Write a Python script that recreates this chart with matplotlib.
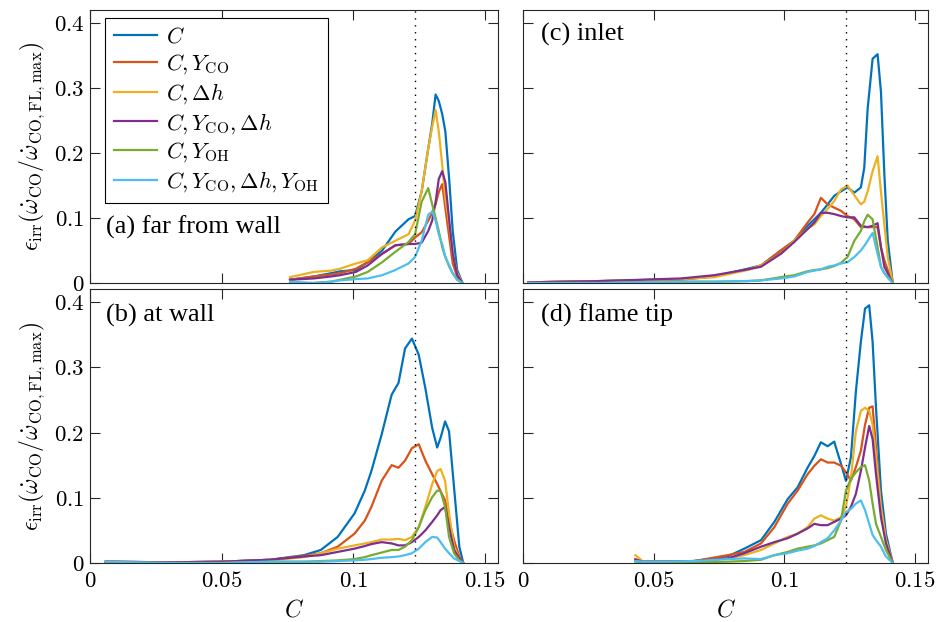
import numpy as np
import matplotlib
matplotlib.use('agg')
import matplotlib.pyplot as plt

plt.rcParams['font.family'] = ['Liberation Serif', 'DejaVu Serif']
plt.rcParams['mathtext.fontset'] = 'cm'

labels = [r'$C$', r'$C, Y_{\rm CO}$', r'$C, \Delta h$', r'$C, Y_{\rm CO}, \Delta h$',
          r'$C, Y_{\rm OH}$', r'$C, Y_{\rm CO}, \Delta h, Y_{\rm OH}$']
colors = ['#0072BD', '#D95319', '#EDB120', '#7E2F8E', '#77AC30', '#4DBEEE']
c_stoich = 0.1235

# (a) far from wall
C_a = [0.076, 0.085, 0.0915, 0.095, 0.101, 0.1055, 0.111, 0.116, 0.121, 0.1235, 0.126,
       0.1285, 0.130, 0.1313, 0.1325, 0.1338, 0.135, 0.1365, 0.1378, 0.1395, 0.1415]
a_C     = [0.005, 0.010, 0.015, 0.018, 0.020, 0.032, 0.050, 0.079, 0.098, 0.103, 0.141,
           0.207, 0.245, 0.290, 0.280, 0.260, 0.233, 0.157, 0.080, 0.020, 0.0]
a_CO    = [0.005, 0.010, 0.013, 0.015, 0.022, 0.032, 0.045, 0.058, 0.060, 0.070, 0.078,
           0.096, 0.108, 0.121, 0.140, 0.152, 0.115, 0.070, 0.030, 0.010, 0.0]
a_dh    = [0.009, 0.017, 0.019, 0.022, 0.030, 0.035, 0.055, 0.065, 0.075, 0.096, 0.141,
           0.207, 0.240, 0.266, 0.233, 0.182, 0.130, 0.090, 0.045, 0.015, 0.0]
a_COdh  = [0.005, 0.007, 0.010, 0.012, 0.017, 0.027, 0.045, 0.058, 0.060, 0.060, 0.062,
           0.080, 0.096, 0.125, 0.160, 0.172, 0.155, 0.095, 0.045, 0.012, 0.0]
a_OH    = [0.0, 0.0, 0.002, 0.005, 0.010, 0.017, 0.032, 0.048, 0.063, 0.075, 0.125,
           0.146, 0.121, 0.100, 0.080, 0.055, 0.040, 0.025, 0.015, 0.005, 0.0]
a_all   = [0.002, 0.0, 0.002, 0.004, 0.006, 0.007, 0.012, 0.020, 0.030, 0.040, 0.065,
           0.105, 0.110, 0.096, 0.075, 0.060, 0.040, 0.027, 0.015, 0.005, 0.0]

# (b) at wall
C_b = [0.006, 0.03, 0.05, 0.0685, 0.0813, 0.0877, 0.0941, 0.1005, 0.1044, 0.1069, 0.1108,
       0.1146, 0.1172, 0.1197, 0.1223, 0.1249, 0.1274, 0.1300, 0.1319, 0.1332, 0.1349,
       0.1364, 0.1383, 0.1403, 0.1418]
b_C     = [0.002, 0.001, 0.002, 0.005, 0.012, 0.020, 0.040, 0.076, 0.111, 0.141, 0.197,
           0.258, 0.276, 0.329, 0.344, 0.319, 0.268, 0.207, 0.177, 0.192, 0.217, 0.202,
           0.116, 0.025, 0.0]
b_CO    = [0.002, 0.001, 0.002, 0.005, 0.011, 0.015, 0.025, 0.045, 0.065, 0.086, 0.126,
           0.150, 0.146, 0.157, 0.176, 0.182, 0.157, 0.136, 0.121, 0.110, 0.096, 0.065,
           0.035, 0.010, 0.0]
b_dh    = [0.002, 0.001, 0.002, 0.004, 0.009, 0.015, 0.022, 0.027, 0.030, 0.032, 0.036,
           0.036, 0.037, 0.035, 0.040, 0.055, 0.086, 0.121, 0.141, 0.144, 0.126, 0.076,
           0.025, 0.007, 0.0]
b_COdh  = [0.002, 0.001, 0.002, 0.005, 0.010, 0.012, 0.017, 0.022, 0.026, 0.029, 0.032,
           0.030, 0.027, 0.027, 0.032, 0.040, 0.050, 0.063, 0.073, 0.081, 0.086, 0.055,
           0.020, 0.007, 0.0]
b_OH    = [0.001, 0.0, 0.0, 0.002, 0.002, 0.003, 0.004, 0.006, 0.009, 0.012, 0.016,
           0.020, 0.020, 0.025, 0.035, 0.055, 0.081, 0.101, 0.111, 0.110, 0.086, 0.040,
           0.015, 0.004, 0.0]
b_all   = [0.002, 0.0, 0.0, 0.002, 0.002, 0.002, 0.003, 0.004, 0.005, 0.006, 0.008,
           0.009, 0.010, 0.012, 0.015, 0.022, 0.032, 0.040, 0.039, 0.032, 0.022, 0.015,
           0.007, 0.003, 0.0]

# (c) inlet
C_c = [0.002, 0.030, 0.0605, 0.0732, 0.0860, 0.0911, 0.0987, 0.1038, 0.1089, 0.1115,
       0.1140, 0.1166, 0.1191, 0.1217, 0.1242, 0.1268, 0.1293, 0.1306, 0.1319, 0.1338,
       0.1357, 0.1370, 0.1383, 0.1396, 0.1415]
c_C     = [0.001, 0.003, 0.006, 0.010, 0.022, 0.027, 0.050, 0.065, 0.088, 0.098, 0.108,
           0.121, 0.134, 0.141, 0.147, 0.139, 0.147, 0.177, 0.268, 0.345, 0.352, 0.294,
           0.167, 0.065, 0.0]
c_CO    = [0.001, 0.003, 0.005, 0.010, 0.021, 0.027, 0.050, 0.065, 0.093, 0.106, 0.131,
           0.121, 0.116, 0.111, 0.103, 0.098, 0.086, 0.086, 0.086, 0.086, 0.086, 0.055,
           0.035, 0.020, 0.0]
c_dh    = [0.001, 0.003, 0.006, 0.009, 0.020, 0.027, 0.045, 0.065, 0.083, 0.090, 0.103,
           0.114, 0.126, 0.144, 0.150, 0.135, 0.121, 0.125, 0.141, 0.172, 0.195, 0.140,
           0.090, 0.040, 0.0]
c_COdh  = [0.001, 0.003, 0.007, 0.012, 0.021, 0.025, 0.045, 0.063, 0.083, 0.093, 0.108,
           0.108, 0.106, 0.103, 0.101, 0.101, 0.088, 0.087, 0.086, 0.088, 0.092, 0.055,
           0.025, 0.015, 0.0]
c_OH    = [0.0, 0.0, 0.002, 0.002, 0.003, 0.004, 0.009, 0.012, 0.018, 0.020, 0.021,
           0.023, 0.026, 0.031, 0.040, 0.065, 0.080, 0.095, 0.105, 0.098, 0.055, 0.025,
           0.015, 0.010, 0.0]
c_all   = [0.0, 0.0, 0.002, 0.002, 0.003, 0.004, 0.007, 0.010, 0.017, 0.019, 0.021,
           0.025, 0.027, 0.030, 0.032, 0.040, 0.050, 0.057, 0.065, 0.077, 0.045, 0.025,
           0.015, 0.008, 0.0]

# (d) flame tip
C_d = [0.043, 0.046, 0.0528, 0.0656, 0.0783, 0.0847, 0.0911, 0.0962, 0.1013, 0.1051,
       0.1089, 0.1115, 0.1140, 0.1166, 0.1191, 0.1217, 0.1236, 0.1255, 0.1274, 0.1293,
       0.1309, 0.1325, 0.1338, 0.1351, 0.1370, 0.1389, 0.1415]
d_C     = [0.003, 0.002, 0.002, 0.003, 0.010, 0.022, 0.035, 0.063, 0.098, 0.116, 0.146,
           0.164, 0.185, 0.179, 0.186, 0.152, 0.126, 0.162, 0.263, 0.339, 0.390, 0.395,
           0.339, 0.238, 0.111, 0.045, 0.0]
d_CO    = [0.006, 0.002, 0.002, 0.003, 0.012, 0.017, 0.030, 0.055, 0.091, 0.111, 0.136,
           0.149, 0.159, 0.154, 0.154, 0.149, 0.139, 0.126, 0.147, 0.172, 0.212, 0.238,
           0.240, 0.177, 0.086, 0.035, 0.0]
d_dh    = [0.012, 0.002, 0.002, 0.003, 0.007, 0.012, 0.020, 0.030, 0.040, 0.045, 0.055,
           0.068, 0.073, 0.068, 0.065, 0.070, 0.086, 0.131, 0.202, 0.233, 0.238, 0.233,
           0.212, 0.162, 0.086, 0.035, 0.0]
d_COdh  = [0.005, 0.002, 0.002, 0.003, 0.007, 0.015, 0.025, 0.032, 0.038, 0.045, 0.053,
           0.060, 0.058, 0.058, 0.063, 0.068, 0.073, 0.086, 0.106, 0.141, 0.177, 0.210,
           0.190, 0.136, 0.070, 0.030, 0.0]
d_OH    = [0.002, 0.001, 0.001, 0.001, 0.002, 0.003, 0.005, 0.012, 0.017, 0.022, 0.025,
           0.027, 0.030, 0.035, 0.040, 0.065, 0.111, 0.129, 0.139, 0.147, 0.150, 0.126,
           0.091, 0.060, 0.040, 0.020, 0.0]
d_all   = [0.003, 0.002, 0.002, 0.003, 0.006, 0.007, 0.006, 0.012, 0.015, 0.019, 0.022,
           0.026, 0.032, 0.038, 0.050, 0.065, 0.078, 0.083, 0.091, 0.096, 0.081, 0.060,
           0.043, 0.035, 0.025, 0.010, 0.0]

panels = [
    ('(a) far from wall', C_a, [a_C, a_CO, a_dh, a_COdh, a_OH, a_all], (0.04, 0.205)),
    ('(c) inlet', C_c, [c_C, c_CO, c_dh, c_COdh, c_OH, c_all], (0.045, 0.91)),
    ('(b) at wall', C_b, [b_C, b_CO, b_dh, b_COdh, b_OH, b_all], (0.04, 0.905)),
    ('(d) flame tip', C_d, [d_C, d_CO, d_dh, d_COdh, d_OH, d_all], (0.045, 0.905)),
]

fig = plt.figure(figsize=(9.39, 6.22), dpi=100)
W, H = 939.0, 622.0
boxes = [(90, 10, 408, 273), (523, 10, 405, 273), (90, 289, 408, 274), (523, 289, 405, 274)]

xt = [0, 0.05, 0.1, 0.15]
yt = [0, 0.1, 0.2, 0.3, 0.4]
ylab = r'$\epsilon_{\rm irr}(\dot{\omega}_{\rm CO}/\dot{\omega}_{\rm CO,FL,max})$'

axes = []
for i, (title, C, series, tpos) in enumerate(panels):
    x0, y0, w, h = boxes[i]
    ax = fig.add_axes([x0 / W, 1 - (y0 + h) / H, w / W, h / H])
    axes.append(ax)
    for vals, col, lab in zip(series, colors, labels):
        ax.plot(C, vals, color=col, lw=1.6, label=lab)
    ax.axvline(c_stoich, color='k', ls=(0, (1, 4)), lw=1.0)
    ax.set_xlim(0, 0.155)
    ax.set_ylim(0, 0.42)
    ax.set_xticks(xt)
    ax.set_yticks(yt)
    ax.tick_params(direction='in', top=True, right=True, length=7, width=0.8,
                   labelsize=16.5, color='#262626')
    ax.tick_params(axis='y', pad=4)
    ax.tick_params(axis='x', pad=6)
    for s in ax.spines.values():
        s.set_linewidth(0.8)
        s.set_color('#262626')
    if i in (0, 2):
        ax.set_yticklabels(['$0$', '$0.1$', '$0.2$', '$0.3$', '$0.4$'])
        ax.set_ylabel(ylab, fontsize=17, labelpad=5)
    else:
        ax.set_yticklabels([])
    if i in (2, 3):
        ax.set_xticklabels(['$0$', '$0.05$', '$0.1$', '$0.15$'])
        ax.set_xlabel('$C$', fontsize=17, labelpad=5)
    else:
        ax.set_xticklabels([])
    ax.text(tpos[0], tpos[1], title, transform=ax.transAxes, fontsize=19,
            va='center', ha='left')

leg = axes[0].legend(loc='upper left', bbox_to_anchor=(0.036, 0.97), borderaxespad=0,
                     fontsize=16, fancybox=False, edgecolor='k', framealpha=1,
                     handlelength=1.95, labelspacing=0.22, handletextpad=0.4,
                     borderpad=0.4)
leg.get_frame().set_linewidth(0.8)

fig.savefig('out.png', dpi=100)
